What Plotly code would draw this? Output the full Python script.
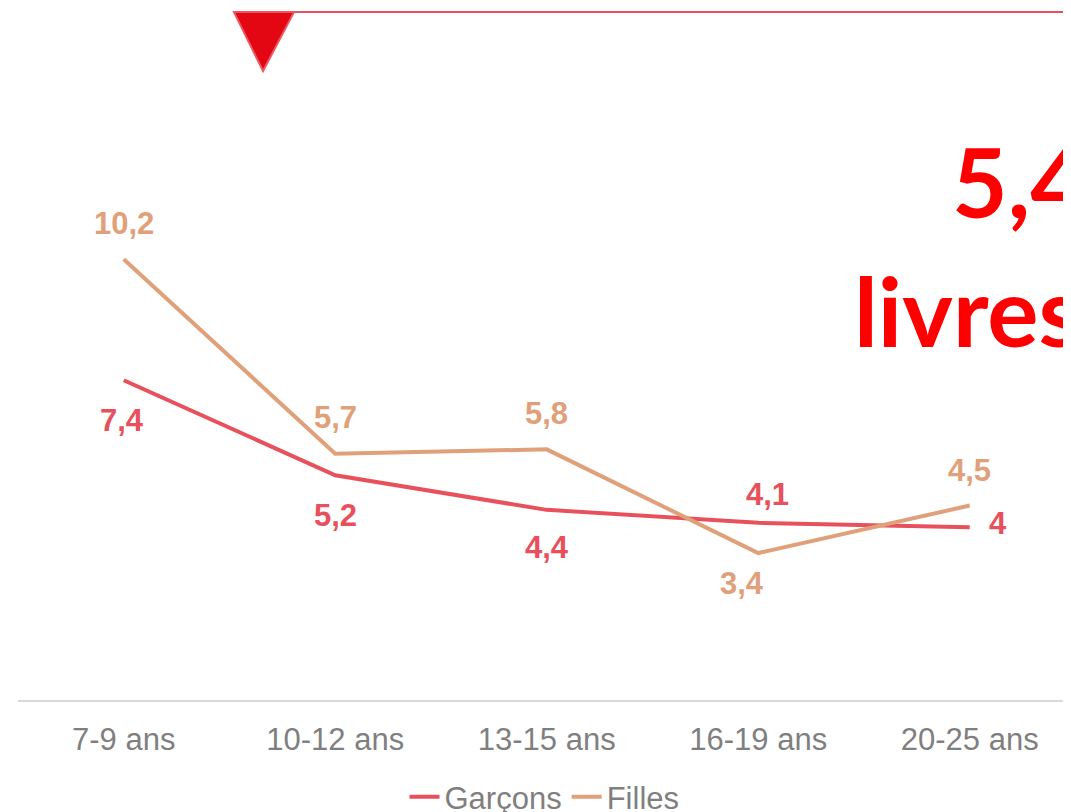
import plotly.graph_objects as go

# Données
categories = ["7-9 ans", "10-12 ans", "13-15 ans", "16-19 ans", "20-25 ans"]
garcons = [7.4, 5.2, 4.4, 4.1, 4]
filles = [10.2, 5.7, 5.8, 3.4, 4.5]
garcons_labels = ["7,4", "5,2", "4,4", "4,1", "4"]
filles_labels = ["10,2", "5,7", "5,8", "3,4", "4,5"]

col_g = "#E8505B"
col_f = "#E0A07A"

fig = go.Figure()
fig.add_trace(go.Scatter(x=categories, y=garcons, mode="lines", name="Garçons",
                         line=dict(color=col_g, width=4)))
fig.add_trace(go.Scatter(x=categories, y=filles, mode="lines", name="Filles",
                         line=dict(color=col_f, width=4)))

# Étiquettes de données (décalages en pixels)
g_shift = [(-2, -40), (0, -40), (0, -38), (9, 28), (28, 4)]
f_shift = [(0, 36), (0, 36), (0, 36), (-16, -30), (0, 35)]
for cat, v, lab, (dx, dy) in zip(categories, garcons, garcons_labels, g_shift):
    fig.add_annotation(x=cat, y=v, text=lab, showarrow=False, xshift=dx, yshift=dy,
                       font=dict(family="Liberation Sans", size=31, color=col_g, weight="bold"))
for cat, v, lab, (dx, dy) in zip(categories, filles, filles_labels, f_shift):
    fig.add_annotation(x=cat, y=v, text=lab, showarrow=False, xshift=dx, yshift=dy,
                       font=dict(family="Liberation Sans", size=31, color=col_f, weight="bold"))

# Gros chiffre coupé à droite
fig.add_annotation(xref="paper", yref="paper", x=0.8855, y=0.859, text="5,4 livres",
                   xanchor="left", yanchor="middle", showarrow=False,
                   font=dict(family="Lato", size=96, color="#FF0000", weight="bold"))
fig.add_annotation(xref="paper", yref="paper", x=0.792, y=0.645, text="livres",
                   xanchor="left", yanchor="middle", showarrow=False,
                   font=dict(family="Lato", size=96, color="#FF0000", weight="bold"))

# Ligne et triangle en haut
fig.add_shape(type="line", xref="paper", yref="paper", x0=0.2583, x1=1.02, y0=1.137, y1=1.137,
              line=dict(color=col_g, width=2))
fig.add_shape(type="path", xref="paper", yref="paper",
              path="M 0.2051 1.137 L 0.2621 1.137 L 0.2327 1.0397 Z",
              fillcolor="#E30613", line=dict(color="#EE5560", width=2))

fig.update_xaxes(showgrid=False, showline=True, linecolor="#D9D9D9", linewidth=2,
                 range=[-0.5, 4.479], ticks="", ticklabelstandoff=11,
                 tickfont=dict(family="Liberation Sans", size=31, color="#7F7F7F"))
fig.update_yaxes(visible=False, range=[0, 14])
# la page ajoute 8 px de marge autour du graphique
fig.update_layout(
    width=1063, height=804,
    margin=dict(l=10, r=0, t=87, b=112, autoexpand=False),
    plot_bgcolor="white", paper_bgcolor="white",
    legend=dict(orientation="h", x=0.5, xanchor="center", y=-0.116, yanchor="top",
                font=dict(family="Liberation Sans", size=31, color="#7F7F7F"),
                itemwidth=30, tracegroupgap=0),
)

fig.write_html("out.html")
